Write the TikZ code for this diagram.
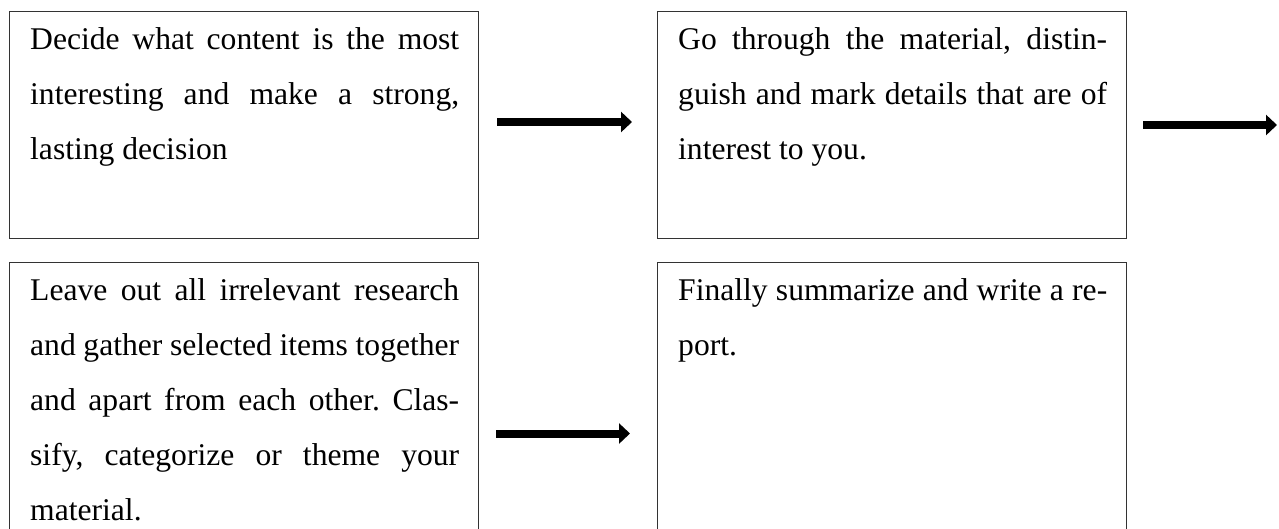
\documentclass[tikz,border=0pt]{standalone}
\usepackage{fontspec}
\setmainfont{Liberation Serif}
\usetikzlibrary{arrows.meta}
\tolerance=9999
\hbadness=10000
\frenchspacing
\begin{document}
\begin{tikzpicture}[x=1pt,y=-1pt,
  box/.style={draw=black!80, line width=1pt, rectangle, minimum width=469pt, inner sep=0pt, anchor=north west},
  txt/.style={anchor=north west, inner sep=0pt, text width=429pt, align=justify,
    font=\fontsize{31.6}{55}\selectfont},
  flow/.style={line width=8pt, -{Triangle[length=11pt,width=20pt]}}]
\useasboundingbox (0,0) rectangle (1279,528);
\node[box, minimum height=227pt] (b1) at (9,11) {};
\node[box, minimum height=227pt] (b2) at (657,11) {};
\node[box, minimum height=342pt] (b3) at (9,262) {};
\node[box, minimum height=342pt] (b4) at (657,262) {};
\node[txt] (t1) at ([xshift=21pt]b1.north west) {\strut Decide what content is the most\linebreak interesting and make a strong,\linebreak lasting decision};
\node[txt] (t2) at ([xshift=21pt]b2.north west) {\strut Go through the material, distin-\linebreak guish and mark details that are of\linebreak interest to you.};
\node[txt] (t3) at ([xshift=21pt]b3.north west) {\strut Leave out all irrelevant research\linebreak and gather selected items together\linebreak and apart from each other. Clas-\linebreak sify, categorize or theme your\linebreak material.};
\node[txt] (t4) at ([xshift=21pt]b4.north west) {\strut Finally summarize and write a re-\linebreak port.};
\coordinate (e2) at (1277,125);
\draw[flow] ([xshift=18pt,yshift=3pt]b1.east) -- ([xshift=-25pt,yshift=3pt]b2.west);
\draw[flow] ([xshift=16pt]b2.east) -- (b2.east -| e2);
\draw[flow] ([xshift=17pt]b3.east) -- ([xshift=-27pt]b4.west);
\end{tikzpicture}
\end{document}
